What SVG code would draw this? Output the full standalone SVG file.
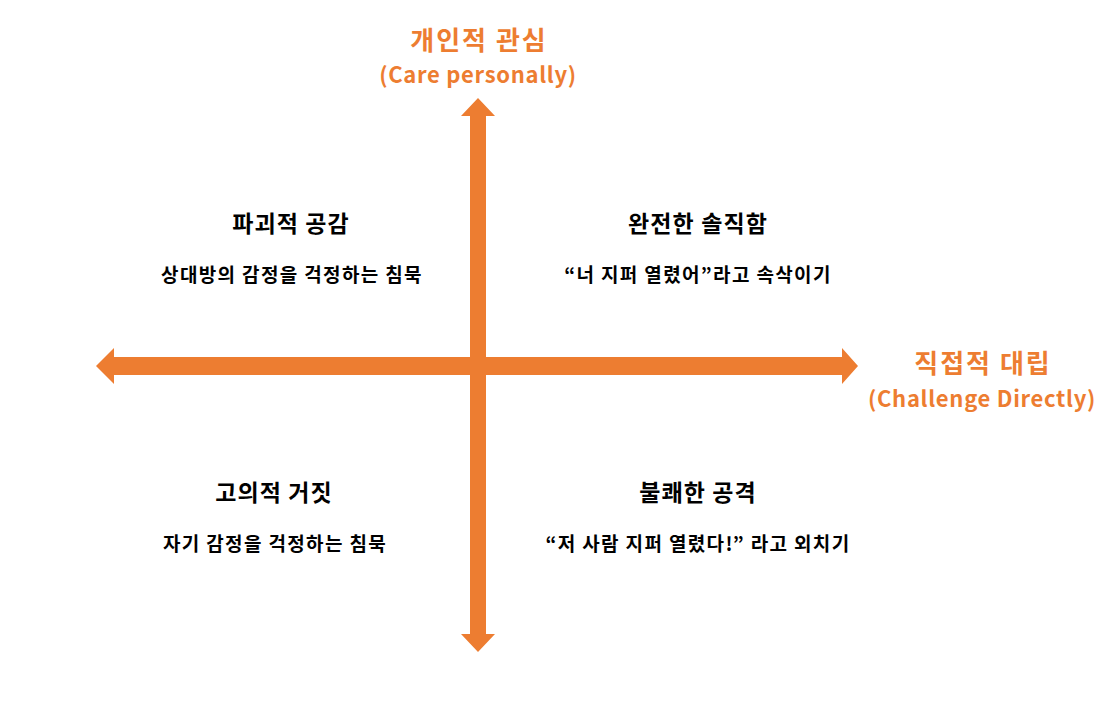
<svg xmlns="http://www.w3.org/2000/svg" width="1115" height="703" viewBox="0 0 1115 703">
<style>
.ax{fill:#ED7D31;}
.axl{fill:#ED7D31;font-family:"Noto Sans CJK KR","Noto Sans",sans-serif;font-weight:700;text-anchor:middle;}
.k{font-size:26px;letter-spacing:2px;}
.e{font-size:22px;letter-spacing:0.7px;}
.t{fill:#000;font-family:"Noto Sans CJK KR","Noto Sans",sans-serif;font-weight:700;font-size:23px;letter-spacing:1.1px;text-anchor:middle;}
.s{fill:#000;font-family:"Noto Sans CJK KR","Noto Sans",sans-serif;font-weight:700;font-size:19px;letter-spacing:1.35px;text-anchor:middle;}
</style>
<rect width="1115" height="703" fill="#fff"/>
<g id="connectors">
<polygon class="ax" points="478,98 495,116 486,116 486,634 495,634 478,652 461,634 470,634 470,116 461,116"/>
<polygon class="ax" points="96,366 114,348 114,357 842,357 842,348 858,366 842,384 842,375 114,375 114,384"/>
</g>
<g id="axis-y">
<text class="axl k" x="479" y="50">개인적 관심</text>
<text class="axl e" x="478" y="83">(Care personally)</text>
</g>
<g id="axis-x">
<text class="axl k" x="983" y="373">직접적 대립</text>
<text class="axl e" x="982" y="407">(Challenge Directly)</text>
</g>
<g id="q-ruinous-empathy">
<text class="t" x="291" y="232">파괴적 공감</text>
<text class="s" x="292" y="282">상대방의 감정을 걱정하는 침묵</text>
</g>
<g id="q-radical-candor">
<text class="t" x="698" y="232">완전한 솔직함</text>
<text class="s" x="698" y="282">“너 지퍼 열렸어”라고 속삭이기</text>
</g>
<g id="q-manipulative-insincerity">
<text class="t" x="274" y="501">고의적 거짓</text>
<text class="s" x="275" y="551">자기 감정을 걱정하는 침묵</text>
</g>
<g id="q-obnoxious-aggression">
<text class="t" x="698" y="501">불쾌한 공격</text>
<text class="s" x="698" y="551">“저 사람 지퍼 열렸다!” 라고 외치기</text>
</g>
</svg>
